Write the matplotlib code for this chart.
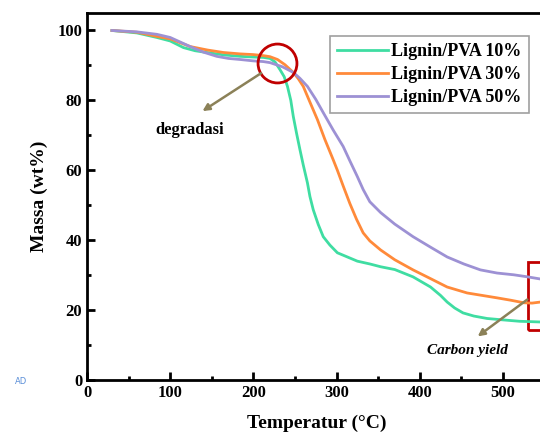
import matplotlib.pyplot as plt
from matplotlib.patches import Rectangle

plt.rcParams['font.family'] = ['Liberation Serif', 'DejaVu Serif']
plt.rcParams['font.weight'] = 'bold'

# TGA curves
t10 = [30, 60, 84, 100, 116, 130, 144, 165, 184, 200, 212, 220, 226, 232, 237, 241, 245, 248, 252, 256,
       260, 265, 268, 272, 278, 284, 292, 301, 313, 325, 340, 353, 370, 392, 413, 425, 433, 442, 452, 465,
       481, 500, 520, 545]
m10 = [100, 99.3, 98, 97, 95.1, 94.2, 93.7, 93.0, 92.6, 92.4, 92.3, 92.0, 91.0, 88.8, 86.8, 84.0, 80.0, 75.4, 70.5, 65.9,
       61.5, 56.4, 52.5, 48.7, 44.5, 41.0, 38.6, 36.4, 35.2, 34.0, 33.2, 32.4, 31.6, 29.5, 26.6, 24.2, 22.3, 20.6, 19.2, 18.3,
       17.6, 17.2, 16.8, 16.6]

t30 = [30, 60, 84, 100, 124, 145, 164, 184, 200, 212, 220, 229, 238, 248, 254, 260, 268, 277, 286, 296,
       301, 308, 316, 324, 332, 340, 353, 370, 392, 413, 433, 457, 475, 493, 510, 525, 535, 545]
m30 = [100, 99.5, 98.3, 97.6, 95.4, 94.4, 93.7, 93.3, 93.1, 92.8, 92.5, 91.7, 90.2, 88.0, 86.2, 84.0, 79.5, 74.5, 68.8, 63.0,
       60.0, 55.5, 50.5, 46.0, 42.1, 39.8, 37.2, 34.4, 31.5, 29.0, 26.6, 24.9, 24.2, 23.5, 22.8, 22.1, 22.0, 22.3]

t50 = [30, 60, 84, 100, 124, 140, 156, 170, 184, 200, 212, 220, 235, 248, 256, 265, 275, 284, 296, 308,
       316, 325, 332, 340, 353, 370, 392, 413, 433, 453, 473, 493, 513, 530, 545]
m50 = [100, 99.6, 98.9, 98.0, 95.4, 93.8, 92.6, 92.0, 91.7, 91.3, 91.1, 90.8, 89.6, 88.0, 86.3, 84.0, 80.3, 76.5, 71.5, 66.8,
       62.7, 58.2, 54.5, 51.0, 47.9, 44.6, 41.0, 38.0, 35.2, 33.2, 31.5, 30.6, 30.1, 29.5, 28.9]

labels = ['Lignin/PVA 10%', 'Lignin/PVA 30%', 'Lignin/PVA 50%']
colors = ['#3fdda2', '#ff8a3a', '#9d91d4']

fig = plt.figure(figsize=(5.4, 4.34), dpi=100)
ax = fig.add_axes([87/540, 54/434, 460/540, 367/434])

ax.plot(t10, m10, color=colors[0], lw=2, label=labels[0])
ax.plot(t30, m30, color=colors[1], lw=2, label=labels[1])
ax.plot(t50, m50, color=colors[2], lw=2, label=labels[2])

ax.set_xlim(0, 553)
ax.set_ylim(0, 105)
ax.set_xticks([0, 100, 200, 300, 400, 500])
ax.set_yticks([0, 20, 40, 60, 80, 100])
ax.set_xticks([50, 150, 250, 350, 450, 550], minor=True)
ax.set_yticks([10, 30, 50, 70, 90], minor=True)
ax.tick_params(which='both', direction='in', width=2, labelsize=12)
ax.tick_params(which='major', length=6)
ax.tick_params(which='minor', length=3)
for lab in ax.get_xticklabels() + ax.get_yticklabels():
    lab.set_fontweight('bold')
for s in ['left', 'bottom', 'top']:
    ax.spines[s].set_linewidth(2)
ax.spines['right'].set_visible(False)

ax.set_xlabel('Temperatur (°C)', fontsize=14, fontweight='bold', labelpad=10)
ax.set_ylabel('Massa (wt%)', fontsize=14, fontweight='bold', labelpad=7)

leg = ax.legend(loc='upper left', bbox_to_anchor=(0.528, 0.937), fontsize=13, frameon=True,
                fancybox=False, edgecolor='#888888', handlelength=2.8, handletextpad=0.2,
                borderpad=0.4, labelspacing=0.32, borderaxespad=0)
leg.get_frame().set_linewidth(1.2)

# degradasi marker
ax.plot([228], [90.8], 'o', ms=28, mfc='none', mec='#c00000', mew=2, clip_on=False)
ax.annotate('', xy=(136, 76.5), xytext=(212, 88.2),
            arrowprops=dict(arrowstyle='-|>', color='#8b8158', lw=1.8, mutation_scale=10))
ax.text(124, 71.6, 'degradasi', fontsize=12, fontweight='bold', ha='center', va='center')

# carbon yield box
ax.add_patch(Rectangle((530, 14.3), 40, 19.5, fill=False, ec='#c00000', lw=2, clip_on=False))
ax.annotate('', xy=(467, 12), xytext=(532, 23.5),
            arrowprops=dict(arrowstyle='-|>', color='#8b8158', lw=1.8, mutation_scale=10))
ax.text(457, 8.4, 'Carbon yield', fontsize=11, fontweight='bold', style='italic', ha='center', va='center')

fig.text(15/540, 1 - 382/434, 'AD', fontsize=6, color='#5b8fd8', family='DejaVu Sans', fontweight='normal',
         va='center')

fig.savefig('out.png', dpi=100)
